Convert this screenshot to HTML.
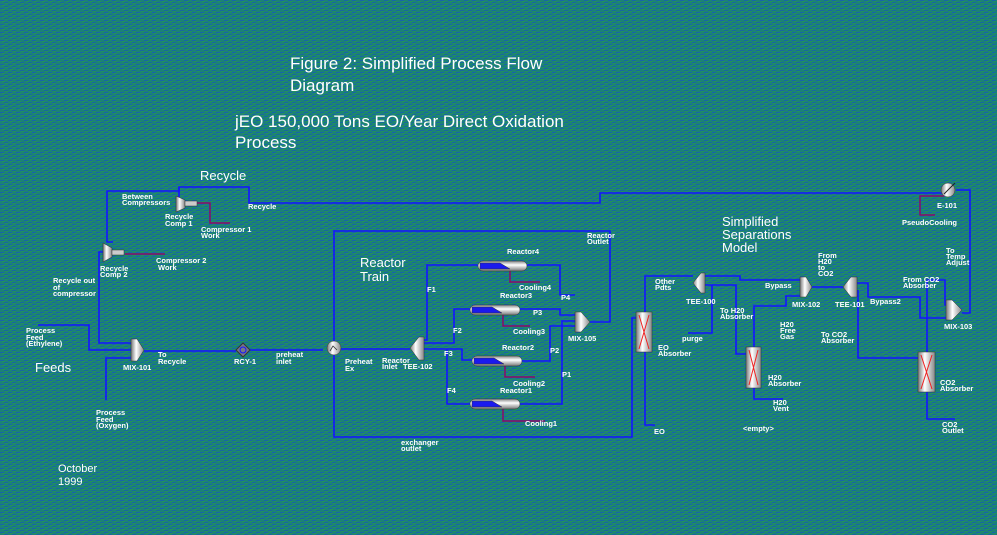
<!DOCTYPE html>
<html><head><meta charset="utf-8"><style>
html,body{margin:0;padding:0;width:997px;height:535px;overflow:hidden;background:#1c7a80;}
svg{display:block}
text{font-family:"Liberation Sans",sans-serif;fill:#fff}
.s{font-size:7.5px;font-weight:bold}
.t{font-size:17px}
.m{font-size:13px}
.b{stroke:#1414ff;stroke-width:1.6;fill:none}
.p{stroke:#8a0a6a;stroke-width:1.5;fill:none}
</style></head><body>
<svg width="997" height="535" viewBox="0 0 997 535">
<defs>
<pattern id="bg" width="8" height="4" patternUnits="userSpaceOnUse">
<rect width="8" height="4" fill="#1c8276"/><rect width="4" height="1" fill="#1766a8"/><rect x="4" y="2" width="4" height="1" fill="#1768a0"/><rect x="2" y="1" width="3" height="1" fill="#22925a"/><rect x="5" y="3" width="3" height="1" fill="#21905e"/>
</pattern>
<linearGradient id="cyl" x1="0" x2="1"><stop offset="0" stop-color="#777"/><stop offset=".4" stop-color="#fff"/><stop offset="1" stop-color="#888"/></linearGradient>
<linearGradient id="cylv" x1="0" y1="0" x2="0" y2="1"><stop offset="0" stop-color="#888"/><stop offset=".4" stop-color="#fff"/><stop offset="1" stop-color="#777"/></linearGradient>
</defs>
<rect width="997" height="535" fill="url(#bg)"/>

<!-- titles -->
<text class="t" x="290" y="69">Figure 2: Simplified Process Flow</text>
<text class="t" x="290" y="91">Diagram</text>
<text class="t" x="235" y="127">jEO 150,000 Tons EO/Year Direct Oxidation</text>
<text class="t" x="235" y="148">Process</text>
<text class="m" x="200" y="180">Recycle</text>
<text class="m" x="35" y="372">Feeds</text>
<text class="m" x="360" y="267">Reactor</text>
<text class="m" x="360" y="281">Train</text>
<text class="m" x="722" y="226">Simplified</text>
<text class="m" x="722" y="239">Separations</text>
<text class="m" x="722" y="252">Model</text>
<text x="58" y="472" style="font-size:11px">October</text>
<text x="58" y="485" style="font-size:11px">1999</text>

<!-- left recycle piping -->
<path class="b" d="M945,193 H600 V203 H249 V187 H179 V197"/>
<path class="b" d="M179,187 V191 H107 V242 H113"/>
<path class="b" d="M103,252 H99 V343 H131"/>
<path class="b" d="M38,325 H89 V350 H131"/>
<path class="b" d="M106,400 V358 H131"/>
<path class="b" d="M144,351 H236 M250,350 H323"/>
<path class="p" d="M197,203 H210 V223 H230"/>
<path class="p" d="M125,254 H165"/>
<g stroke="#333" stroke-width=".5">
<polygon points="176,196 185,200 185,208 176,212" fill="url(#cyl)"/><rect x="185" y="201" width="12" height="5" fill="#ccc"/>
<polygon points="103,243 112,248 112,257 103,262" fill="url(#cyl)"/><rect x="112" y="250" width="12" height="5" fill="#ccc"/>
<polygon points="131,339 137,339 144,350 137,361 131,361" fill="url(#cyl)"/>
</g>
<polygon points="243,343 250,350 243,357 236,350" fill="#778" stroke="#333"/>
<circle cx="243" cy="350" r="3" fill="none" stroke="#1414ff"/>

<text class="s" x="122" y="199">Between</text><text class="s" x="122" y="205">Compressors</text>
<text class="s" x="165" y="219">Recycle</text><text class="s" x="165" y="226">Comp 1</text>
<text class="s" x="201" y="232">Compressor 1</text><text class="s" x="201" y="238">Work</text>
<text class="s" x="248" y="209">Recycle</text>
<text class="s" x="100" y="271">Recycle</text><text class="s" x="100" y="277">Comp 2</text>
<text class="s" x="156" y="263">Compressor 2</text><text class="s" x="158" y="270">Work</text>
<text class="s" x="53" y="283">Recycle out</text><text class="s" x="53" y="290">of</text><text class="s" x="53" y="296">compressor</text>
<text class="s" x="26" y="333">Process</text><text class="s" x="26" y="340">Feed</text><text class="s" x="26" y="346">(Ethylene)</text>
<text class="s" x="123" y="370">MIX-101</text>
<text class="s" x="158" y="357">To</text><text class="s" x="158" y="364">Recycle</text>
<text class="s" x="234" y="364">RCY-1</text>
<text class="s" x="276" y="357">preheat</text><text class="s" x="276" y="364">inlet</text>
<text class="s" x="96" y="415">Process</text><text class="s" x="96" y="422">Feed</text><text class="s" x="96" y="428">(Oxygen)</text>

<!-- reactor train -->
<path class="b" d="M334,348 V231 H610 V322 H590"/>
<path class="b" d="M334,348 V437 H632 V318 H636"/>
<path class="b" d="M341,349 H410"/>
<path class="b" d="M424,340 H427 V265 H478 M527,265 H560 V295 H575"/>
<path class="b" d="M424,343 H454 V309 H470 M520,309 H560 V315 H576"/>
<path class="b" d="M424,349 H462 V360 H472 M522,361 H550 V326 H576"/>
<path class="b" d="M447,349 V404 H470 M520,404 H562 V321 H576"/>
<path class="p" d="M510,270 V282 H540 M503,313 V326 H530 M505,365 V377 H535 M503,408 V421 H545"/>
<circle cx="334" cy="348" r="7" fill="url(#cyl)" stroke="#333" stroke-width=".5"/>
<path d="M330,351 L333,346 L337,350" stroke="#333" fill="none" stroke-width=".8"/>
<g stroke="#333" stroke-width=".5">
<polygon points="410,348 419,337 424,337 424,360 419,360" fill="url(#cyl)"/>
<polygon points="575,312 581,312 590,322 581,332 575,332" fill="url(#cyl)"/>
<rect x="478" y="261" width="49" height="10" rx="5" fill="url(#cylv)"/><polygon points="480,263 500,263 510,269 480,269" fill="#1a1aee"/>
<rect x="470" y="305" width="50" height="10" rx="5" fill="url(#cylv)"/><polygon points="472,307 492,307 502,313 472,313" fill="#1a1aee"/>
<rect x="472" y="356" width="50" height="10" rx="5" fill="url(#cylv)"/><polygon points="474,358 494,358 504,364 474,364" fill="#1a1aee"/>
<rect x="470" y="399" width="50" height="10" rx="5" fill="url(#cylv)"/><polygon points="472,401 492,401 502,407 472,407" fill="#1a1aee"/>
</g>
<text class="s" x="587" y="238">Reactor</text><text class="s" x="587" y="244">Outlet</text>
<text class="s" x="507" y="254">Reactor4</text>
<text class="s" x="519" y="290">Cooling4</text>
<text class="s" x="500" y="298">Reactor3</text>
<text class="s" x="561" y="300">P4</text>
<text class="s" x="533" y="315">P3</text>
<text class="s" x="513" y="334">Cooling3</text>
<text class="s" x="427" y="292">F1</text>
<text class="s" x="453" y="333">F2</text>
<text class="s" x="502" y="350">Reactor2</text>
<text class="s" x="550" y="353">P2</text>
<text class="s" x="568" y="341">MIX-105</text>
<text class="s" x="444" y="356">F3</text>
<text class="s" x="345" y="364">Preheat</text><text class="s" x="345" y="371">Ex</text>
<text class="s" x="382" y="363">Reactor</text><text class="s" x="382" y="369">Inlet</text>
<text class="s" x="403" y="369">TEE-102</text>
<text class="s" x="562" y="377">P1</text>
<text class="s" x="513" y="386">Cooling2</text>
<text class="s" x="500" y="393">Reactor1</text>
<text class="s" x="447" y="393">F4</text>
<text class="s" x="525" y="426">Cooling1</text>
<text class="s" x="401" y="445">exchanger</text><text class="s" x="401" y="451">outlet</text>

<!-- separations -->
<path class="b" d="M645,312 V276 H693"/>
<path class="b" d="M705,276 H740 V280 H800"/>
<path class="b" d="M705,285 H736 V354 H746"/>
<path class="b" d="M712,285 V333 H688"/>
<path class="b" d="M754,347 V306 H786 V296 H800"/>
<path class="b" d="M812,287 H843"/>
<path class="b" d="M857,283 H868 V297 H920 V318 H946"/>
<path class="b" d="M858,290 V358 H918"/>
<path class="b" d="M927,352 V280 H945 V305 H946"/>
<path class="b" d="M962,313 H970 V190 H956"/>
<path class="b" d="M927,392 V419 H955"/>
<path class="b" d="M645,352 V425 H655"/>
<path class="b" d="M754,388 V399 H783"/>
<path class="p" d="M944,196 H920 V215 H935"/>
<g stroke="#333" stroke-width=".5">
<rect x="636" y="312" width="16" height="40" fill="url(#cyl)"/>
<rect x="746" y="347" width="15" height="41" fill="url(#cyl)"/>
<rect x="918" y="352" width="17" height="40" fill="url(#cyl)"/>
<polygon points="693,283 701,273 705,273 705,293 701,293" fill="url(#cyl)"/>
<polygon points="800,277 806,277 812,287 806,297 800,297" fill="url(#cyl)"/>
<polygon points="843,287 851,277 857,277 857,297 851,297" fill="url(#cyl)"/>
<polygon points="946,300 952,300 962,310 952,320 946,320" fill="url(#cyl)"/>
<circle cx="948" cy="190" r="7" fill="url(#cyl)"/>
</g>
<path d="M639,315 L649,349 M649,315 L639,349 M749,350 L758,385 M758,350 L749,385 M921,355 L932,389 M932,355 L921,389" stroke="#e22" stroke-width="1"/>
<path d="M944,194 L955,183" stroke="#222" stroke-width="1"/>

<text class="s" x="655" y="284">Other</text><text class="s" x="655" y="290">Pdts</text>
<text class="s" x="686" y="304">TEE-100</text>
<text class="s" x="720" y="313">To H20</text><text class="s" x="720" y="319">Absorber</text>
<text class="s" x="682" y="341">purge</text>
<text class="s" x="658" y="350">EO</text><text class="s" x="658" y="356">Absorber</text>
<text class="s" x="765" y="288">Bypass</text>
<text class="s" x="818" y="258">From</text><text class="s" x="818" y="264">H20</text><text class="s" x="818" y="270">to</text><text class="s" x="818" y="276">CO2</text>
<text class="s" x="792" y="307">MIX-102</text>
<text class="s" x="835" y="307">TEE-101</text>
<text class="s" x="870" y="304">Bypass2</text>
<text class="s" x="780" y="327">H20</text><text class="s" x="780" y="333">Free</text><text class="s" x="780" y="339">Gas</text>
<text class="s" x="821" y="337">To CO2</text><text class="s" x="821" y="343">Absorber</text>
<text class="s" x="768" y="380">H20</text><text class="s" x="768" y="386">Absorber</text>
<text class="s" x="773" y="405">H20</text><text class="s" x="773" y="411">Vent</text>
<text class="s" x="743" y="431">&lt;empty&gt;</text>
<text class="s" x="654" y="434">EO</text>
<text class="s" x="903" y="282">From CO2</text><text class="s" x="903" y="288">Absorber</text>
<text class="s" x="944" y="329">MIX-103</text>
<text class="s" x="940" y="385">CO2</text><text class="s" x="940" y="391">Absorber</text>
<text class="s" x="942" y="427">CO2</text><text class="s" x="942" y="433">Outlet</text>
<text class="s" x="946" y="253">To</text><text class="s" x="946" y="259">Temp</text><text class="s" x="946" y="265">Adjust</text>
<text class="s" x="937" y="208">E-101</text>
<text class="s" x="902" y="225">PseudoCooling</text>
</svg>
</body></html>
